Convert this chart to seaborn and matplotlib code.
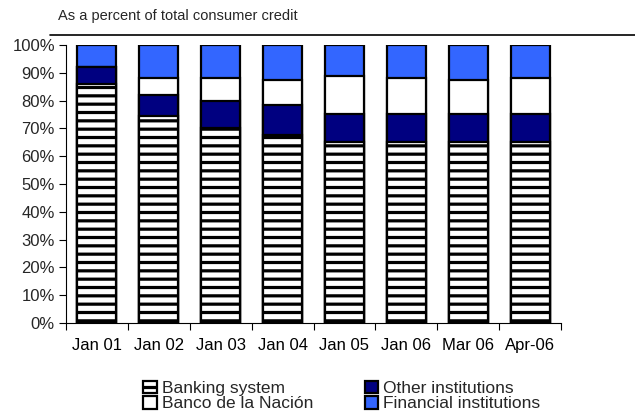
import numpy as np
import pandas as pd
import matplotlib
matplotlib.use("Agg")
import matplotlib.pyplot as plt
from matplotlib.patches import Patch
from matplotlib.lines import Line2D
import seaborn as sns

# Consumer credit shares by lender type (% of total)
months = ["Jan 01", "Jan 02", "Jan 03", "Jan 04", "Jan 05", "Jan 06", "Mar 06", "Apr-06"]
banking_system = [86, 74.5, 70, 67.5, 65, 65, 65, 65]
other_institutions = [6, 7.5, 10, 11, 10, 10, 10, 10]
banco_nacion = [0, 6, 8, 9, 14, 13, 12.5, 13]
financial_institutions = [8, 12, 12, 12.5, 11, 12, 12.5, 12]

series_names = ["Banking system", "Other institutions", "Banco de la Nación", "Financial institutions"]
series_values = [banking_system, other_institutions, banco_nacion, financial_institutions]
series_colors = ["white", "#000080", "white", "#3366FF"]
series_hatch = ["--", None, None, None]

sns.set_theme(style="white")
plt.rcParams["font.family"] = ["Liberation Sans", "DejaVu Sans"]
plt.rcParams["hatch.linewidth"] = 2.3
plt.rcParams["hatch.color"] = "black"

df = pd.DataFrame({"month": months})
for name, vals in zip(series_names, series_values):
    df[name] = vals
# cumulative tops for stacking
cum = df[series_names].cumsum(axis=1)

fig = plt.figure(figsize=(6.35, 4.13), dpi=100)
ax = fig.add_axes([66 / 635, 1 - 323 / 413, 495 / 635, 278 / 413])

# draw from the tallest stack down so each layer shows its own segment
for i in reversed(range(len(series_names))):
    sns.barplot(x=df["month"], y=cum[series_names[i]], ax=ax, color=series_colors[i],
                saturation=1, width=0.63, edgecolor="black", linewidth=1.6,
                hatch=series_hatch[i], errorbar=None)

ax.set_ylim(0, 100)
ax.set_xlim(-0.5, len(months) - 0.5)
ax.set_yticks(np.arange(0, 101, 10))
ax.set_yticklabels([f"{v}%" for v in range(0, 101, 10)])
ax.set_xlabel("")
ax.set_ylabel("")
ax.set_xticks(np.arange(-0.5, len(months), 1), minor=True)
ax.tick_params(axis="x", which="major", length=0, pad=11, labelsize=12, colors="black")
ax.tick_params(axis="x", which="minor", length=5, width=0.8, color="black", direction="out", bottom=True)
ax.tick_params(axis="y", length=5, width=0.8, color="black", direction="out", left=True, pad=3, labelsize=12)
for side in ["top", "right"]:
    ax.spines[side].set_visible(False)
for side in ["left", "bottom"]:
    ax.spines[side].set_color("black")
    ax.spines[side].set_linewidth(0.8)

fig.text(58 / 635, 1 - 16 / 413, "As a percent of total consumer credit", fontsize=10.5,
         ha="left", va="center")
fig.add_artist(Line2D([50 / 635, 1.0], [1 - 35 / 413] * 2, transform=fig.transFigure,
                      color="black", linewidth=1.2))

handles = [
    Patch(facecolor="white", edgecolor="black", hatch="--", linewidth=1.6),
    Patch(facecolor="white", edgecolor="black", linewidth=1.6),
    Patch(facecolor="#000080", edgecolor="black", linewidth=1.6),
    Patch(facecolor="#3366FF", edgecolor="black", linewidth=1.6),
]
labels = ["Banking system", "Banco de la Nación", "Other institutions", "Financial institutions"]
fig.legend(handles, labels, ncol=2, loc="center", bbox_to_anchor=(342 / 635, 1 - 396 / 413),
           frameon=False, fontsize=12.5, handlelength=0.75, handleheight=0.75,
           handletextpad=0.3, labelspacing=0.0, columnspacing=3.0, borderpad=0)

fig.savefig("out.png", dpi=100)
